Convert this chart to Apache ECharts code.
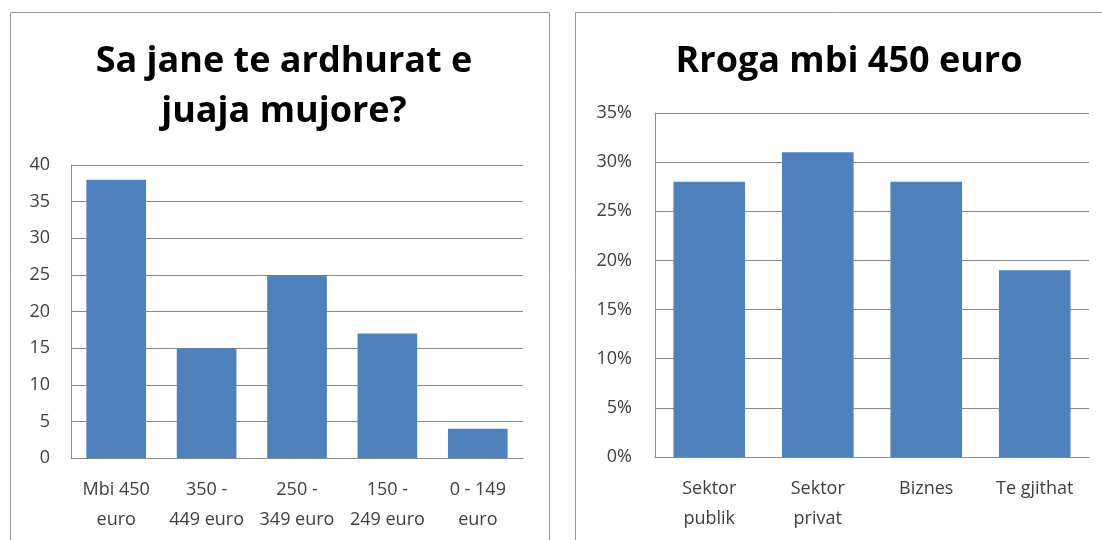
<!DOCTYPE html>
<html>
<head>
<meta charset="utf-8">
<script src="https://cdn.jsdelivr.net/npm/echarts@6/dist/echarts.min.js"></script>
<style>
  html, body { margin: 0; padding: 0; background: #fff; }
  #main { width: 1102px; height: 540px; }
</style>
</head>
<body>
<div id="main"></div>
<script>
// left chart: monthly income
var incomeTitle = 'Sa jane te ardhurat e\njuaja mujore?';
var incomeCats = ['Mbi 450\neuro', '350 -\n449 euro', '250 -\n349 euro', '150 -\n249 euro', '0 - 149\neuro'];
var incomeVals = [38, 15, 25, 17, 4];

// right chart: salary over 450 euro, percent
var salaryTitle = 'Rroga mbi 450 euro';
var salaryCats = ['Sektor\npublik', 'Sektor\nprivat', 'Biznes', 'Te gjithat'];
var salaryVals = [28, 31, 28, 19];

var font = '"Open Sans", "Noto Sans", sans-serif';
var lineCol = '#8a8a8a';
var barCol = '#4f81bd';

function yAxis(idx, max, fmt, margin) {
  return {
    type: 'value', gridIndex: idx, min: 0, max: max, interval: 5,
    axisLine: { show: true, lineStyle: { color: lineCol, width: 1 } },
    axisTick: { show: false },
    splitLine: { lineStyle: { color: lineCol, width: 1 } },
    axisLabel: { color: '#404040', fontFamily: font, fontSize: 18, margin: margin, formatter: fmt }
  };
}
function xAxis(idx, cats) {
  return {
    type: 'category', gridIndex: idx, data: cats,
    axisLine: { show: true, lineStyle: { color: lineCol, width: 1 } },
    axisTick: { show: false },
    axisLabel: { color: '#404040', fontFamily: font, fontSize: 18, lineHeight: 30, margin: 17, interval: 0 }
  };
}

var myChart = echarts.init(document.getElementById('main'));
var option = {
  animation: false,
  backgroundColor: '#fff',
  graphic: [
    { type: 'rect', shape: { x: 10.5, y: 12.5, width: 539, height: 560 }, style: { fill: 'none', stroke: '#9a9a9a', lineWidth: 1 } },
    { type: 'rect', shape: { x: 575.5, y: 12.5, width: 560, height: 560 }, style: { fill: 'none', stroke: '#9a9a9a', lineWidth: 1 } }
  ],
  title: [
    { text: incomeTitle, left: 279, top: 32, textAlign: 'center',
      textStyle: { fontFamily: font, fontSize: 36, fontWeight: 'bold', color: '#000', lineHeight: 50 } },
    { text: salaryTitle, left: 844, top: 32, textAlign: 'center',
      textStyle: { fontFamily: font, fontSize: 36, fontWeight: 'bold', color: '#000', lineHeight: 50 } }
  ],
  grid: [
    { left: 71, top: 165, width: 452, height: 293 },
    { left: 655, top: 113, width: 434, height: 344 }
  ],
  xAxis: [ xAxis(0, incomeCats), xAxis(1, salaryCats) ],
  yAxis: [ yAxis(0, 40, '{value}', 21), yAxis(1, 35, '{value}%', 23) ],
  series: [
    { type: 'bar', xAxisIndex: 0, yAxisIndex: 0, data: incomeVals, barCategoryGap: '34%',
      itemStyle: { color: barCol } },
    { type: 'bar', xAxisIndex: 1, yAxisIndex: 1, data: salaryVals, barCategoryGap: '34%',
      itemStyle: { color: barCol } }
  ]
};
myChart.setOption(option);
</script>
</body>
</html>
